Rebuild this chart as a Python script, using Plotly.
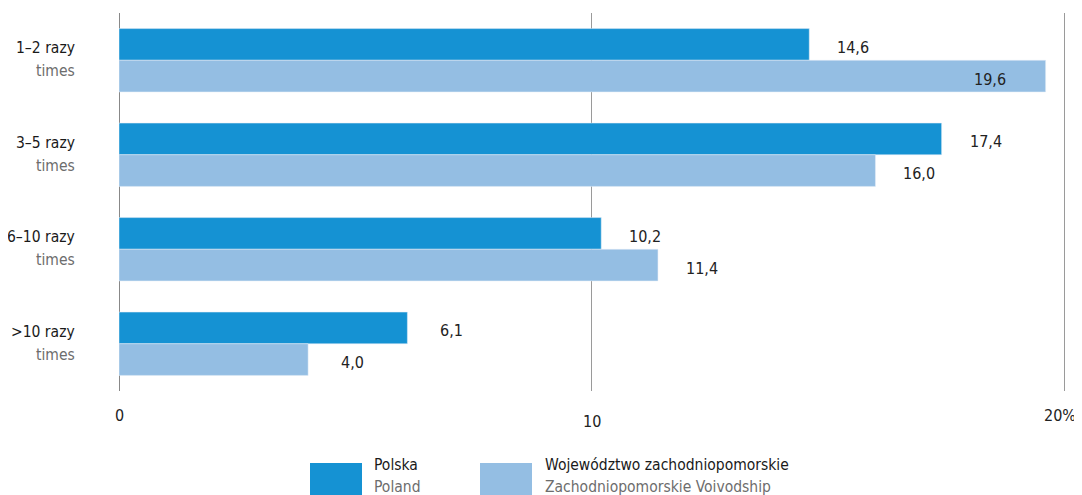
import plotly.graph_objects as go

categories = ["1–2 razy", "3–5 razy", "6–10 razy", ">10 razy"]
categories_en = ["times", "times", "times", "times"]
polska = [14.6, 17.4, 10.2, 6.1]
zachodniopomorskie = [19.6, 16.0, 11.4, 4.0]
series_pl = ["Polska", "Województwo zachodniopomorskie"]
series_en = ["Poland", "Zachodniopomorskie Voivodship"]
x_ticks = [0, 10, 20]
x_ticktext = ["0", "10", "20%"]

DARK = "#1592D3"
LIGHT = "#94BEE3"
FONT = "DejaVu Sans Condensed, Roboto, sans-serif"
OFF = 8  # page body margin
W, H = 1082 - OFF, 495 - OFF
L, R, T, B = 119 - OFF, 8, 13 - OFF, 104
XMAX = 20.2
pw = W - L - R
ph = H - T - B

def px_x(px):
    return (px - OFF - L) / pw

def px_y(py):
    return (H - B - (py - OFF)) / ph

fig = go.Figure()
fig.add_trace(go.Bar(y=categories, x=polska, orientation="h", marker_color=DARK,
                     name=series_pl[0], showlegend=False))
fig.add_trace(go.Bar(y=categories, x=zachodniopomorskie, orientation="h", marker_color=LIGHT,
                     name=series_pl[1], showlegend=False))

ann = []
def fmt(v):
    return f"{v:.1f}".replace(".", ",")

for series, ys in ((polska, 13), (zachodniopomorskie, -19)):
    for c, v in zip(categories, series):
        shift = 44
        xpix = 119 + v / XMAX * pw + shift
        if xpix > 1000:
            shift = 990 - (119 + v / XMAX * pw)
        ann.append(dict(x=v, y=c, xref="x", yref="y", text=fmt(v), showarrow=False,
                        xshift=shift, yshift=ys, xanchor="center", yanchor="middle",
                        font=dict(size=16, color="#222", family=FONT)))

for c, e in zip(categories, categories_en):
    ann.append(dict(x=0, y=c, xref="paper", yref="y", text=c, showarrow=False,
                    xshift=-42, yshift=12, xanchor="right", yanchor="middle",
                    font=dict(size=15.5, color="#1a1a1a", family=FONT)))
    ann.append(dict(x=0, y=c, xref="paper", yref="y", text=e, showarrow=False,
                    xshift=-42, yshift=-11, xanchor="right", yanchor="middle",
                    font=dict(size=15.5, color="#6d6d6d", family=FONT)))

tick_yshift = [-24, -30, -24]
tick_xshift = [0, 0, -5]
for v, t, s, xs in zip(x_ticks, x_ticktext, tick_yshift, tick_xshift):
    ann.append(dict(x=v, y=0, xref="x", yref="paper", text=t, showarrow=False,
                    yshift=s, xshift=xs, xanchor="center", yanchor="middle",
                    font=dict(size=16, color="#222", family=FONT)))

# legend
shapes = []
legend_pos = [(310, 372), (480, 543)]
for (rx, tx), col, pl, en in zip(legend_pos, [DARK, LIGHT], series_pl, series_en):
    shapes.append(dict(type="rect", xref="paper", yref="paper",
                       x0=px_x(rx), x1=px_x(rx + 52), y0=px_y(463), y1=px_y(495),
                       fillcolor=col, line_width=0, layer="above"))
    ann.append(dict(x=px_x(tx), y=px_y(465), xref="paper", yref="paper", text=pl,
                    showarrow=False, xanchor="left", yanchor="middle",
                    font=dict(size=15.5, color="#1a1a1a", family=FONT)))
    ann.append(dict(x=px_x(tx), y=px_y(487), xref="paper", yref="paper", text=en,
                    showarrow=False, xanchor="left", yanchor="middle",
                    font=dict(size=15.5, color="#6d6d6d", family=FONT)))

fig.update_layout(
    width=W, height=H,
    margin=dict(l=L, r=R, t=T, b=B),
    paper_bgcolor="white", plot_bgcolor="white",
    barmode="group", bargap=0.33, bargroupgap=0,
    font=dict(family=FONT, size=16),
    annotations=ann, shapes=shapes,
    xaxis=dict(range=[0, XMAX], tickvals=x_ticks, showticklabels=False,
               showgrid=True, gridcolor="#9a9a9a", gridwidth=1,
               zeroline=True, zerolinecolor="#888", zerolinewidth=1, fixedrange=True),
    yaxis=dict(autorange="reversed", showticklabels=False, showgrid=False,
               zeroline=False, fixedrange=True),
)

fig.write_html("out.html")
